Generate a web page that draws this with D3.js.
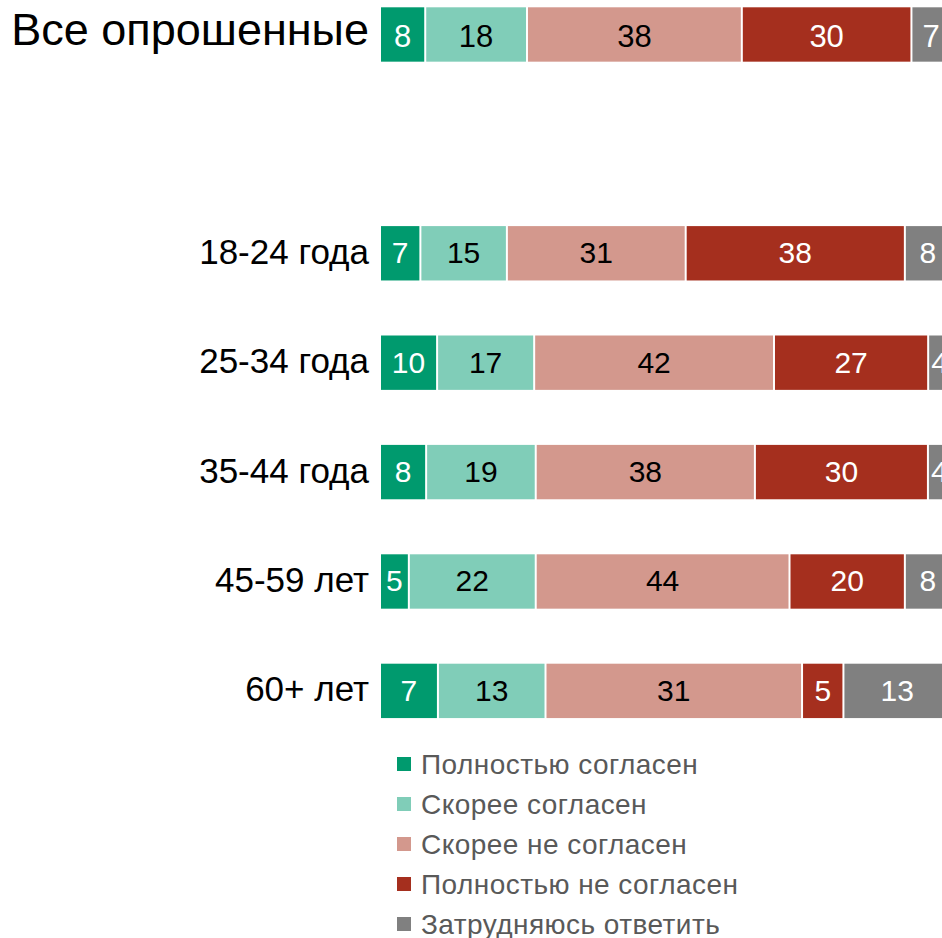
<!DOCTYPE html>
<html>
<head>
<meta charset="utf-8">
<script src="https://cdn.jsdelivr.net/npm/d3@7"></script>
<style>
  body { margin: 0; background: #fff; }
  svg { display: block; font-family: "Liberation Sans", Arial, sans-serif; }
</style>
</head>
<body>
<div id="chart"></div>
<script>
// groups (top to bottom), the blank one is the empty slot after the total
const gruppi = ["Все опрошенные", "", "18-24 года", "25-34 года", "35-44 года", "45-59 лет", "60+ лет"];
const righe = ["Все опрошенные", "18-24 года", "25-34 года", "35-44 года", "45-59 лет", "60+ лет"];

const risposte = ["Полностью согласен", "Скорее согласен", "Скорее не согласен", "Полностью не согласен", "Затрудняюсь ответить"];

const polnostyuSoglasen = [8, 7, 10, 8, 5, 7];
const skoreeSoglasen = [18, 15, 17, 19, 22, 13];
const skoreeNeSoglasen = [38, 31, 42, 38, 44, 31];
const polnostyuNeSoglasen = [30, 38, 27, 30, 20, 5];
const zatrudnyayus = [7, 8, 4, 4, 8, 13];

const colori = ["#009a6e", "#80cdb8", "#d3988d", "#a52f1e", "#808080"];
const coloriTesto = ["#fff", "#000", "#000", "#fff", "#fff"];

const width = 942;
const height = 938;

const serie = [polnostyuSoglasen, skoreeSoglasen, skoreeNeSoglasen, polnostyuNeSoglasen, zatrudnyayus];

// one record per row, keyed by answer name
const dati = righe.map((r, i) => {
  const o = { gruppo: r };
  risposte.forEach((k, j) => { o[k] = serie[j][i]; });
  return o;
});

const stack = d3.stack()
  .keys(risposte)
  .offset(d3.stackOffsetExpand);
const strati = stack(dati);

const x = d3.scaleLinear()
  .domain([0, 1])
  .range([381, 952]);

const step = 109.4;
const y = d3.scaleBand()
  .domain(gruppi)
  .range([7.3, 7.3 + step * (gruppi.length - 0.503)])
  .paddingInner(0.503)
  .paddingOuter(0);

const svg = d3.select("#chart")
  .append("svg")
  .attr("width", width)
  .attr("height", height);

/* bars */
const strato = svg.append("g")
  .selectAll("g")
  .data(strati)
  .enter()
  .append("g")
  .attr("fill", (d, i) => colori[i]);

strato.selectAll("rect")
  .data(d => d)
  .enter()
  .append("rect")
  .attr("x", d => x(d[0]))
  .attr("y", d => y(d.data.gruppo))
  .attr("width", d => Math.max(0, x(d[1]) - x(d[0]) - 2))
  .attr("height", y.bandwidth());

/* value labels */
strati.forEach((s, i) => {
  svg.append("g")
    .selectAll("text")
    .data(s)
    .enter()
    .append("text")
    .attr("x", d => (x(d[0]) + x(d[1]) - 2) / 2)
    .attr("y", d => y(d.data.gruppo) + y.bandwidth() / 2)
    .attr("dy", d => d.data.gruppo === righe[0] ? "0.39em" : "0.33em")
    .attr("text-anchor", "middle")
    .attr("fill", coloriTesto[i])
    .style("font-size", d => d.data.gruppo === righe[0] ? "31px" : "30px")
    .text(d => d.data[s.key]);
});

/* row labels */
svg.append("g")
  .selectAll("text")
  .data(righe)
  .enter()
  .append("text")
  .attr("x", 369)
  .attr("y", d => y(d) + y.bandwidth() / 2)
  .attr("dy", (d, i) => i === 0 ? "0.24em" : "0.3em")
  .attr("text-anchor", "end")
  .attr("fill", "#000")
  .style("font-size", (d, i) => i === 0 ? "45px" : "35px")
  .text(d => d);

/* legend */
const legenda = svg.append("g")
  .selectAll("g")
  .data(risposte)
  .enter()
  .append("g")
  .attr("transform", (d, i) => `translate(397, ${764 + i * 40})`);

legenda.append("rect")
  .attr("x", 0)
  .attr("y", -7)
  .attr("width", 14)
  .attr("height", 14)
  .attr("fill", (d, i) => colori[i]);

legenda.append("text")
  .attr("x", 24)
  .attr("y", 10)
  .attr("fill", "#595959")
  .style("font-size", "28px")
  .style("letter-spacing", "0.45px")
  .text(d => d);
</script>
</body>
</html>
